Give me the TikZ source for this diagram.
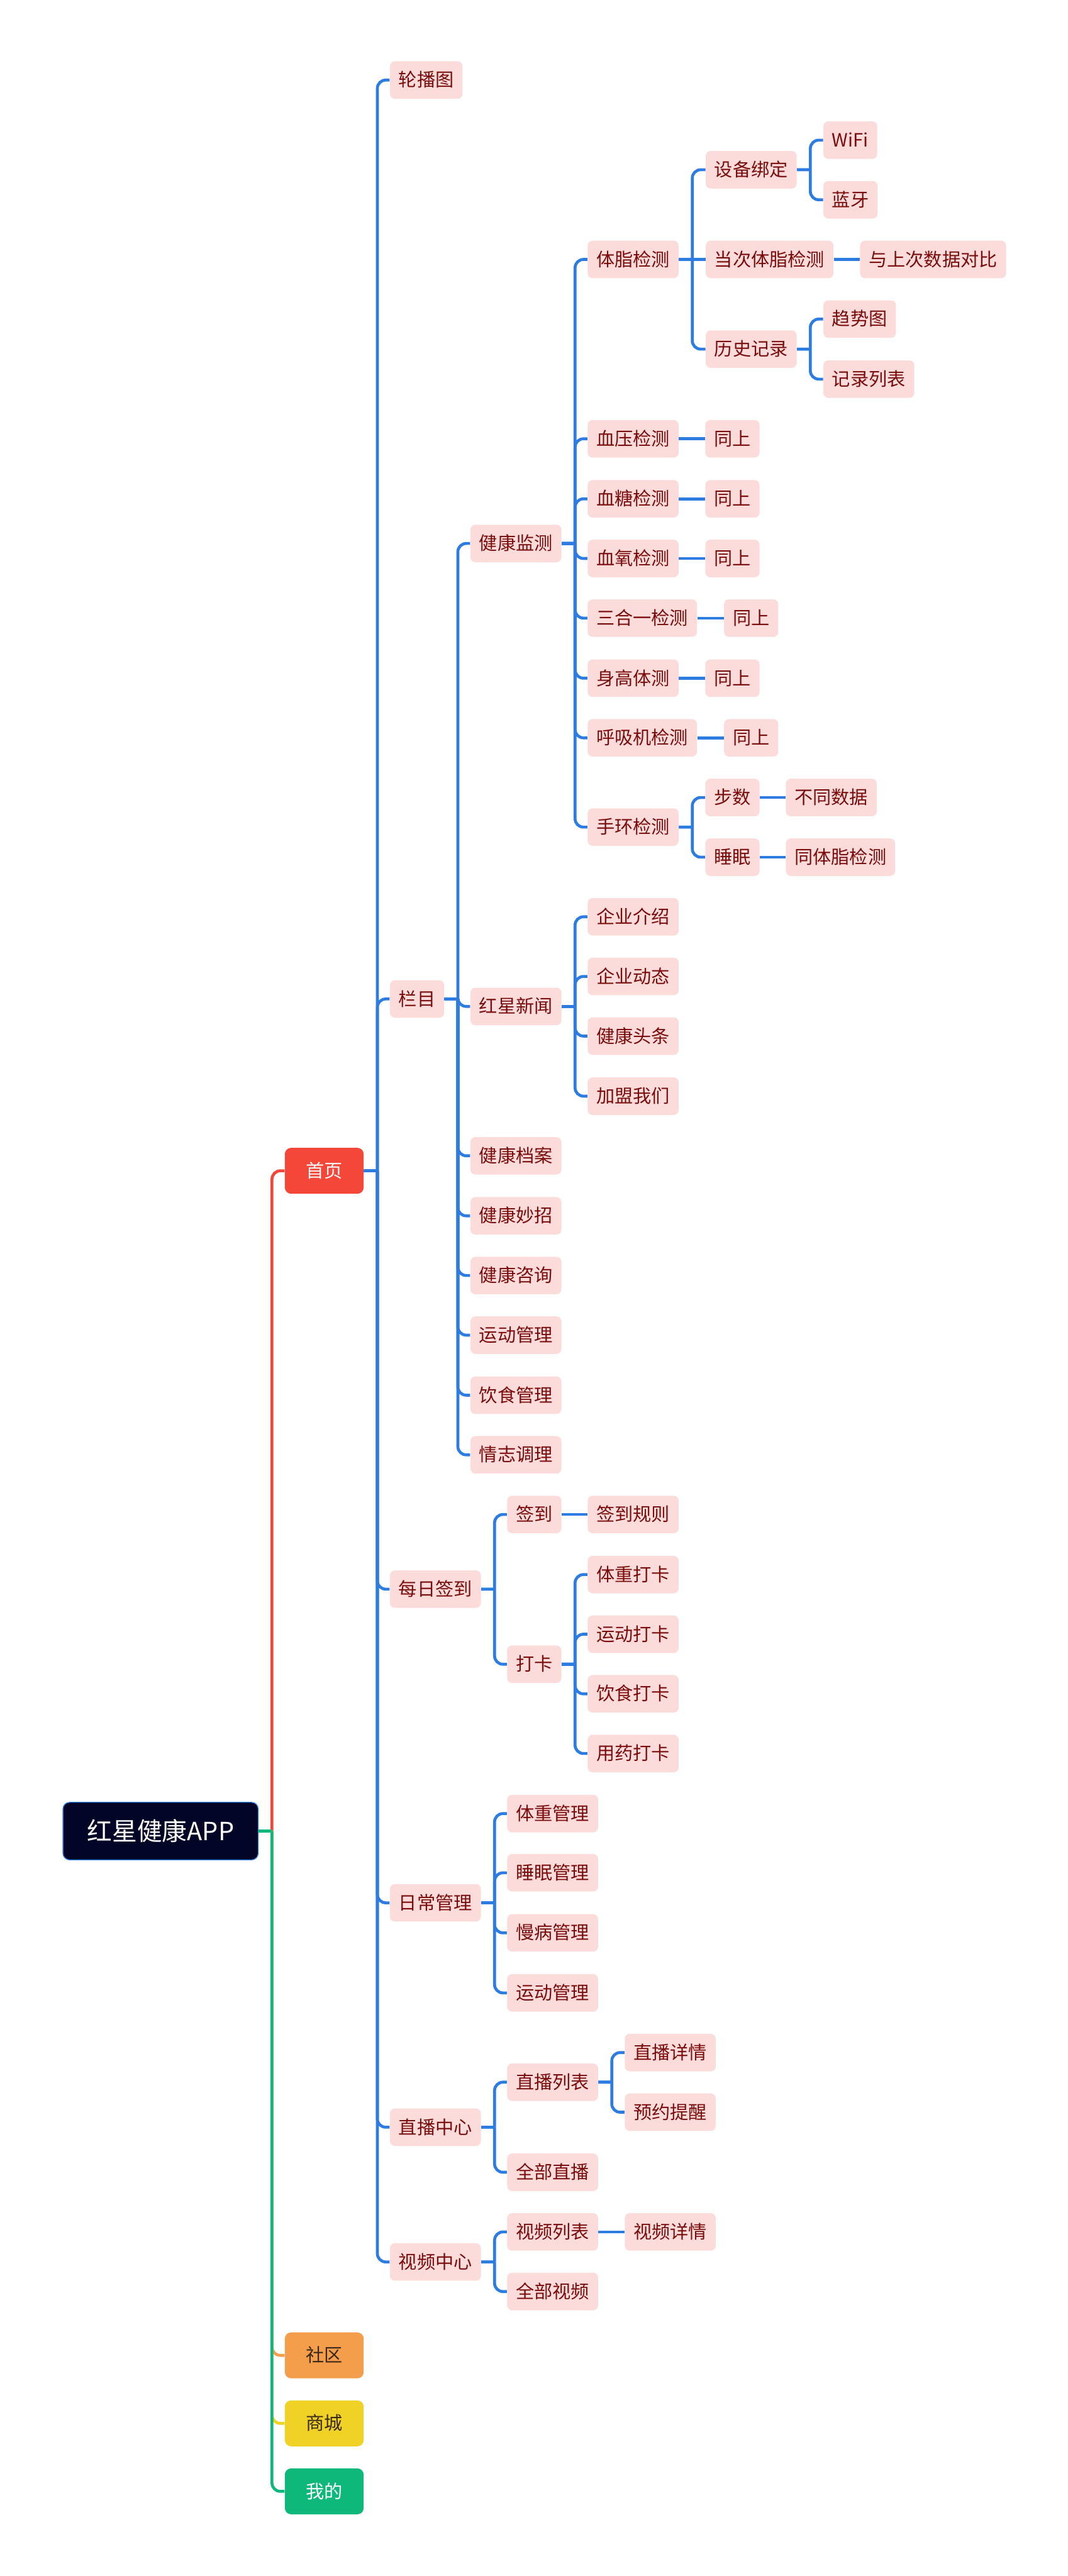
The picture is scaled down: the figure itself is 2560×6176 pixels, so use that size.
\documentclass[tikz,border=0pt]{standalone}
\usepackage{fontspec}
\setmainfont{Noto Sans CJK SC}
\usepackage{xcolor}

\definecolor{leaffill}{RGB}{252,220,218}
\definecolor{leaftext}{RGB}{122,12,12}
\definecolor{linkblue}{RGB}{45,124,226}
\definecolor{rootfill}{RGB}{3,5,38}
\definecolor{homered}{RGB}{245,70,58}
\definecolor{socorange}{RGB}{244,157,74}
\definecolor{shopyellow}{RGB}{240,210,38}
\definecolor{minegreen}{RGB}{14,184,122}
\definecolor{darktext}{RGB}{58,40,22}

\tikzset{
  leaf/.style={fill=leaffill, text=leaftext, rounded corners=3pt,
    font=\fontsize{11pt}{13pt}\selectfont, inner xsep=5.25pt, inner ysep=0pt,
    minimum height=22.5pt, text height=9.5pt, text depth=1.5pt, anchor=west},
  topic/.style={fill=#1, rounded corners=3.75pt,
    font=\fontsize{11pt}{13pt}\selectfont, inner ysep=0pt,
    minimum width=47.25pt, minimum height=27.5pt,
    text height=9.5pt, text depth=1.5pt, anchor=west},
  rootbox/.style={draw=linkblue, line width=0.5pt, fill=rootfill, text=white,
    rounded corners=4pt, font=\fontsize{15pt}{18pt}\selectfont,
    minimum width=117pt, minimum height=34.5pt, inner ysep=0pt,
    text height=13pt, text depth=2pt, anchor=west},
  link/.style={draw=linkblue, line width=1.75pt, rounded corners=5pt},
  elbow/.style={to path={-- ++(32,0) ++(0,0) |- (\tikztotarget)}},
}

\begin{document}
\begin{tikzpicture}[x=0.25pt, y=-0.25pt]
  \useasboundingbox (0,0) rectangle (2560,6176);

  % root and main branches
  \node[rootbox] (root) at (150,4390) {红星健康APP};
  \node[topic=homered, text=white] (home) at (682,2807) {首页};
  \node[topic=socorange, text=darktext] (shequ) at (682,5647) {社区};
  \node[topic=shopyellow, text=darktext] (shop) at (682,5810) {商城};
  \node[topic=minegreen, text=white] (mine) at (682,5973) {我的};

  % 首页
  \node[leaf] (lunbo) at (934,192) {轮播图};
  \node[leaf] (lanmu) at (934,2395) {栏目};
  \node[leaf] (meiri) at (934,3810) {每日签到};
  \node[leaf] (richang) at (934,4562) {日常管理};
  \node[leaf] (zhibo) at (934,5100) {直播中心};
  \node[leaf] (shipin) at (934,5423) {视频中心};

  % 栏目
  \node[leaf] (jkjc) at (1127,1303) {健康监测};
  \node[leaf] (hxxw) at (1127,2413) {红星新闻};
  \node[leaf] (jkda) at (1127,2771) {健康档案};
  \node[leaf] (jkmz) at (1127,2915) {健康妙招};
  \node[leaf] (jkzx) at (1127,3058) {健康咨询};
  \node[leaf] (ydgl) at (1127,3201) {运动管理};
  \node[leaf] (ysgl) at (1127,3345) {饮食管理};
  \node[leaf] (qztl) at (1127,3488) {情志调理};

  % 健康监测
  \node[leaf] (tzjc) at (1408,622) {体脂检测};
  \node[leaf] (xyjc) at (1408,1052) {血压检测};
  \node[leaf] (xtjc) at (1408,1196) {血糖检测};
  \node[leaf] (xoxjc) at (1408,1339) {血氧检测};
  \node[leaf] (shyjc) at (1408,1482) {三合一检测};
  \node[leaf] (sgtc) at (1408,1626) {身高体测};
  \node[leaf] (hxjjc) at (1408,1769) {呼吸机检测};
  \node[leaf] (shjc) at (1408,1983) {手环检测};

  \node[leaf] (ts1) at (1690,1052) {同上};
  \node[leaf] (ts2) at (1690,1196) {同上};
  \node[leaf] (ts3) at (1690,1339) {同上};
  \node[leaf] (ts4) at (1735,1482) {同上};
  \node[leaf] (ts5) at (1690,1626) {同上};
  \node[leaf] (ts6) at (1735,1769) {同上};

  % 体脂检测
  \node[leaf] (sbbd) at (1691,407) {设备绑定};
  \node[leaf] (dcjc) at (1691,622) {当次体脂检测};
  \node[leaf] (lsjl) at (1691,837) {历史记录};
  \node[leaf] (wifi) at (1973,336) {WiFi};
  \node[leaf] (lanya) at (1973,479) {蓝牙};
  \node[leaf] (dbsc) at (2061,622) {与上次数据对比};
  \node[leaf] (qst) at (1973,765) {趋势图};
  \node[leaf] (jllb) at (1973,909) {记录列表};

  % 手环检测
  \node[leaf] (bushu) at (1690,1912) {步数};
  \node[leaf] (shuimian) at (1690,2055) {睡眠};
  \node[leaf] (btsj) at (1883,1912) {不同数据};
  \node[leaf] (ttzjc) at (1883,2055) {同体脂检测};

  % 红星新闻
  \node[leaf] (qyjs) at (1408,2198) {企业介绍};
  \node[leaf] (qydt) at (1408,2341) {企业动态};
  \node[leaf] (jktt) at (1408,2484) {健康头条};
  \node[leaf] (jmwm) at (1408,2628) {加盟我们};

  % 每日签到
  \node[leaf] (qiandao) at (1215,3631) {签到};
  \node[leaf] (daka) at (1215,3990) {打卡};
  \node[leaf] (qdgz) at (1408,3631) {签到规则};
  \node[leaf] (tzdk) at (1408,3775) {体重打卡};
  \node[leaf] (yddk) at (1408,3918) {运动打卡};
  \node[leaf] (ysdk) at (1408,4061) {饮食打卡};
  \node[leaf] (yydk) at (1408,4204) {用药打卡};

  % 日常管理
  \node[leaf] (tzgl) at (1215,4348) {体重管理};
  \node[leaf] (smgl) at (1215,4490) {睡眠管理};
  \node[leaf] (mbgl) at (1215,4634) {慢病管理};
  \node[leaf] (ydgl2) at (1215,4778) {运动管理};

  % 直播中心 / 视频中心
  \node[leaf] (zblb) at (1215,4992) {直播列表};
  \node[leaf] (qbzb) at (1215,5208) {全部直播};
  \node[leaf] (zbxq) at (1497,4921) {直播详情};
  \node[leaf] (yytx) at (1497,5064) {预约提醒};
  \node[leaf] (splb) at (1215,5351) {视频列表};
  \node[leaf] (qbsp) at (1215,5494) {全部视频};
  \node[leaf] (spxq) at (1497,5351) {视频详情};

  \path[link]
  (root.east) edge[elbow, draw=homered] (home.west)
  (root.east) edge[elbow, draw=socorange] (shequ.west)
  (root.east) edge[elbow, draw=shopyellow] (shop.west)
  (root.east) edge[elbow, draw=minegreen] (mine.west);

  \path[link]
  (home.east) edge[elbow] (lunbo.west)
  (home.east) edge[elbow] (lanmu.west)
  (home.east) edge[elbow] (meiri.west)
  (home.east) edge[elbow] (richang.west)
  (home.east) edge[elbow] (zhibo.west)
  (home.east) edge[elbow] (shipin.west)

  (lanmu.east) edge[elbow] (jkjc.west)
  (lanmu.east) edge[elbow] (hxxw.west)
  (lanmu.east) edge[elbow] (jkda.west)
  (lanmu.east) edge[elbow] (jkmz.west)
  (lanmu.east) edge[elbow] (jkzx.west)
  (lanmu.east) edge[elbow] (ydgl.west)
  (lanmu.east) edge[elbow] (ysgl.west)
  (lanmu.east) edge[elbow] (qztl.west)

  (jkjc.east) edge[elbow] (tzjc.west)
  (jkjc.east) edge[elbow] (xyjc.west)
  (jkjc.east) edge[elbow] (xtjc.west)
  (jkjc.east) edge[elbow] (xoxjc.west)
  (jkjc.east) edge[elbow] (shyjc.west)
  (jkjc.east) edge[elbow] (sgtc.west)
  (jkjc.east) edge[elbow] (hxjjc.west)
  (jkjc.east) edge[elbow] (shjc.west)

  (xyjc.east) edge (ts1.west)
  (xtjc.east) edge (ts2.west)
  (xoxjc.east) edge (ts3.west)
  (shyjc.east) edge (ts4.west)
  (sgtc.east) edge (ts5.west)
  (hxjjc.east) edge (ts6.west)

  (tzjc.east) edge[elbow] (sbbd.west)
  (tzjc.east) edge (dcjc.west)
  (tzjc.east) edge[elbow] (lsjl.west)
  (sbbd.east) edge[elbow] (wifi.west)
  (sbbd.east) edge[elbow] (lanya.west)
  (dcjc.east) edge (dbsc.west)
  (lsjl.east) edge[elbow] (qst.west)
  (lsjl.east) edge[elbow] (jllb.west)

  (shjc.east) edge[elbow] (bushu.west)
  (shjc.east) edge[elbow] (shuimian.west)
  (bushu.east) edge (btsj.west)
  (shuimian.east) edge (ttzjc.west)

  (hxxw.east) edge[elbow] (qyjs.west)
  (hxxw.east) edge[elbow] (qydt.west)
  (hxxw.east) edge[elbow] (jktt.west)
  (hxxw.east) edge[elbow] (jmwm.west)

  (meiri.east) edge[elbow] (qiandao.west)
  (meiri.east) edge[elbow] (daka.west)
  (qiandao.east) edge (qdgz.west)
  (daka.east) edge[elbow] (tzdk.west)
  (daka.east) edge[elbow] (yddk.west)
  (daka.east) edge[elbow] (ysdk.west)
  (daka.east) edge[elbow] (yydk.west)

  (richang.east) edge[elbow] (tzgl.west)
  (richang.east) edge[elbow] (smgl.west)
  (richang.east) edge[elbow] (mbgl.west)
  (richang.east) edge[elbow] (ydgl2.west)

  (zhibo.east) edge[elbow] (zblb.west)
  (zhibo.east) edge[elbow] (qbzb.west)
  (zblb.east) edge[elbow] (zbxq.west)
  (zblb.east) edge[elbow] (yytx.west)

  (shipin.east) edge[elbow] (splb.west)
  (shipin.east) edge[elbow] (qbsp.west)
  (splb.east) edge (spxq.west);

\end{tikzpicture}
\end{document}
